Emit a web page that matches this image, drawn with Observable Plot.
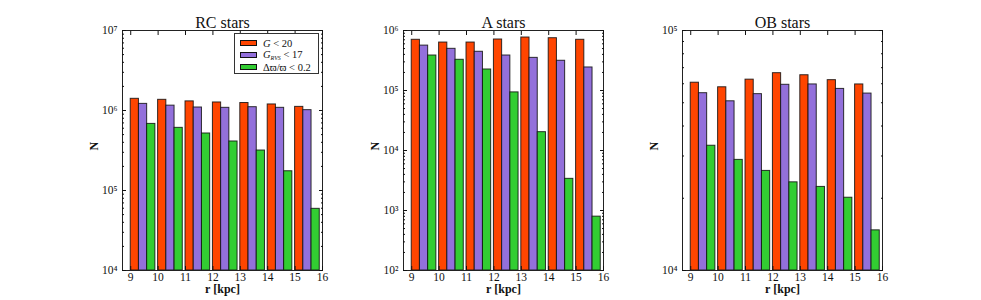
<!DOCTYPE html>
<html><head><meta charset="utf-8">
<script src="https://cdn.jsdelivr.net/npm/d3@7"></script>
<script src="https://cdn.jsdelivr.net/npm/@observablehq/plot@0.6"></script>
<style>
body{margin:0;background:#fff;}
#wrap{position:relative;width:981px;height:300px;font-family:"Liberation Serif","DejaVu Serif",serif;overflow:hidden;}
.panel{position:absolute;top:0;}
.legend{position:absolute;left:234px;top:33px;width:85px;height:41px;border:1px solid #333;background:#fff;box-sizing:border-box;font-size:10.5px;color:#111;}
.row{position:absolute;left:5px;height:12px;display:flex;align-items:center;white-space:nowrap;}
.sw{display:inline-block;width:17px;height:6px;border:1px solid #111;margin-right:6px;box-sizing:border-box;}
sub{font-size:6px;vertical-align:-2px;font-style:italic;}
</style></head><body><div id="wrap"></div>
<script>
const radii = [9, 10, 11, 12, 13, 14, 15];
const xTicks = [9, 10, 11, 12, 13, 14, 15, 16];
const seriesNames = ["G < 20", "G_RVS < 17", "Δϖ/ϖ < 0.2"];
const seriesColors = ["#FF4500", "#9370DB", "#32CD32"];

const rcG   = [1.40e6, 1.36e6, 1.30e6, 1.26e6, 1.24e6, 1.19e6, 1.11e6];
const rcRVS = [1.21e6, 1.15e6, 1.09e6, 1.08e6, 1.10e6, 1.08e6, 1.01e6];
const rcPar = [6.8e5, 6.07e5, 5.16e5, 4.1e5, 3.16e5, 1.74e5, 5.9e4];

const aG   = [7.0e5, 6.3e5, 6.3e5, 7.08e5, 7.64e5, 7.44e5, 7.0e5];
const aRVS = [5.6e5, 4.95e5, 4.42e5, 3.83e5, 3.5e5, 3.13e5, 2.42e5];
const aPar = [3.83e5, 3.25e5, 2.24e5, 9.3e4, 2.02e4, 3.37e3, 7.9e2];

const obG   = [6.06e4, 5.8e4, 6.24e4, 6.64e4, 6.51e4, 6.21e4, 5.96e4];
const obRVS = [5.48e4, 5.07e4, 5.43e4, 5.94e4, 5.96e4, 5.71e4, 5.46e4];
const obPar = [3.31e4, 2.89e4, 2.6e4, 2.33e4, 2.23e4, 2.01e4, 1.47e4];

const panels = [
  {title: "RC stars", left: 122, exps: [4, 7], g: rcG, rvs: rcRVS, par: rcPar},
  {title: "A stars", left: 403, exps: [2, 6], g: aG, rvs: aRVS, par: aPar},
  {title: "OB stars", left: 682, exps: [4, 5], g: obG, rvs: obRVS, par: obPar}
];

const supDigits = "⁰¹²³⁴⁵⁶⁷⁸⁹";
const supFmt = d => "10" + supDigits[Math.round(Math.log10(d))];

const wrap = document.getElementById("wrap");
const ML = 50, MR = 10, MT = 30, MB = 30, PW = 200;

for (const p of panels) {
  const rows = [];
  radii.forEach((r, i) => {
    [p.g[i], p.rvs[i], p.par[i]].forEach((v, k) => rows.push({r, k, v}));
  });
  const major = d3.range(p.exps[0], p.exps[1] + 1).map(e => 10 ** e);
  const minor = [];
  for (let e = p.exps[0]; e < p.exps[1]; e++) for (let m = 2; m <= 9; m++) minor.push(m * 10 ** e);
  const y0 = 10 ** p.exps[0];
  const chart = Plot.plot({
    width: ML + PW + MR, height: 300,
    marginLeft: ML, marginRight: MR, marginTop: MT, marginBottom: MB,
    style: {fontFamily: "'Liberation Serif','DejaVu Serif',serif", fontSize: "11.5px", background: "transparent", color: "#111"},
    x: {domain: [8.7, 16]},
    y: {type: "log", domain: [y0, 10 ** p.exps[1]]},
    marks: [
      Plot.rectY(rows, {
        x1: d => d.r + d.k * 0.3, x2: d => d.r + (d.k + 1) * 0.3,
        y1: y0, y2: "v",
        fill: d => seriesColors[d.k], stroke: "#111", strokeWidth: 1, strokeOpacity: 0.85
      }),
      Plot.frame({stroke: "#222"}),
      Plot.axisY(major, {anchor: "left", tickSize: 0, tickPadding: 5, tickFormat: supFmt, label: null}),
      Plot.axisY(major, {anchor: "left", tickSize: -4, fill: "none", label: null}),
      Plot.axisY(minor, {anchor: "left", tickSize: -2, fill: "none", label: null}),
      Plot.axisY(major, {anchor: "right", tickSize: -4, fill: "none", label: null}),
      Plot.axisY(minor, {anchor: "right", tickSize: -2, fill: "none", label: null}),
      Plot.axisX(xTicks, {anchor: "bottom", tickSize: 0, tickPadding: 2, tickFormat: d => String(d), label: null}),
      Plot.axisX(xTicks, {anchor: "bottom", tickSize: -4, fill: "none", label: null}),
      Plot.axisX(xTicks, {anchor: "top", tickSize: -4, fill: "none", label: null}),
      Plot.text([p.title], {frameAnchor: "top", dy: -3, lineAnchor: "bottom", fontSize: 16, text: d => d}),
      Plot.text(["r [kpc]"], {frameAnchor: "bottom", dy: 22, fontSize: 12, fontWeight: "bold", text: d => d}),
      Plot.text(["N"], {frameAnchor: "left", dx: -28, rotate: -90, fontSize: 12, fontWeight: "bold", text: d => d})
    ]
  });
  chart.classList.add("panel");
  chart.style.left = (p.left - ML) + "px";
  wrap.appendChild(chart);
}

// legend (first panel)
const legend = document.createElement("div");
legend.className = "legend";
const labelsHtml = [
  "<i>G</i>&nbsp;&lt; 20",
  "<i>G</i><sub>RVS</sub>&nbsp;&lt; 17",
  "Δϖ/ϖ &lt; 0.2"
];
const rowTops = [3, 15, 27];
seriesNames.forEach((name, i) => {
  const row = document.createElement("div");
  row.className = "row";
  row.style.top = rowTops[i] + "px";
  row.title = name;
  row.innerHTML = `<span class="sw" style="background:${seriesColors[i]}"></span><span>${labelsHtml[i]}</span>`;
  legend.appendChild(row);
});
wrap.appendChild(legend);
</script>
</body></html>
